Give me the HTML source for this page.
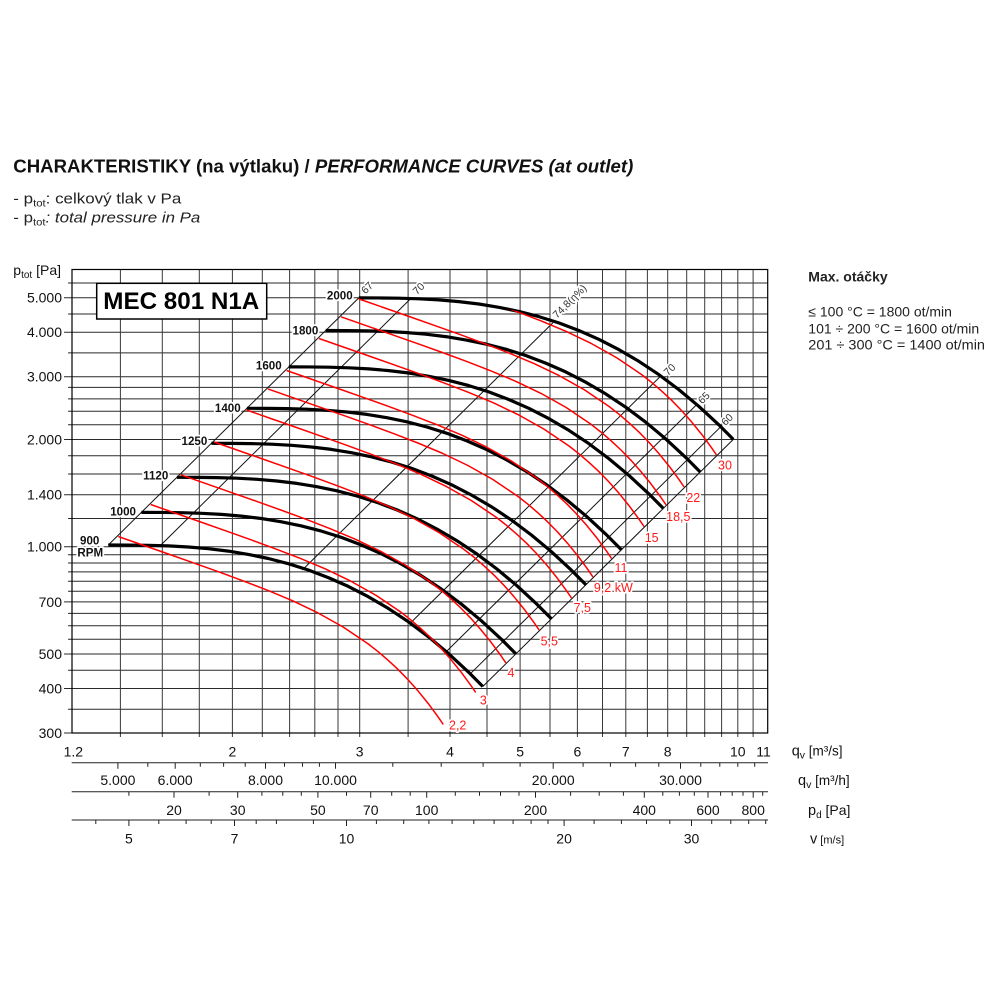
<!DOCTYPE html>
<html><head><meta charset="utf-8"><style>
html,body{margin:0;padding:0;background:#fff;}
svg{display:block;}
.h{paint-order:stroke;stroke:#fff;stroke-width:3.5px;stroke-linejoin:round;}
</style></head><body>
<svg width="1000" height="1000" viewBox="0 0 1000 1000" font-family="'Liberation Sans', Arial, sans-serif">
<defs>
<path id="bk" d="M0,0 L20,0.04 L40,0.29 L60,0.9 L80,2 L100,3.7 L120,6.1 L140,9.4 L160,13.5 L180,18.7 L200,25 L220,32.6 L240,41.4 L260,51.7 L280,63.4 L300,76.7 L320,91.7 L340,108.4 L360,126.9 L374.5,141.5"/>
<path id="rd" d="M0,0 L25,8.75 L50,17.5 L75,26.3 L100,35.2 L125,44.4 L150,54.1 L175,64.6 L200,76.6 L225,90.6 L250,107.5 L260,115.3 L270,123.9 L280,133.2 L290,143.5 L300,154.8 L310,167.1 L320,180.7 L325,188"/>
<clipPath id="cl" clipPathUnits="userSpaceOnUse"><polygon points="60,297.9 358.8,297.9 378.8,297.9 398.8,298.2 418.8,298.8 438.8,299.9 458.8,301.6 478.8,304 498.8,307.3 518.8,311.4 538.8,316.6 558.8,322.9 578.8,330.5 598.8,339.3 618.8,349.6 638.8,361.3 658.8,374.6 678.8,389.6 698.8,406.3 718.8,424.8 733.3,439.4 780,439.4 780,745 60,745"/></clipPath>
</defs>
<rect width="1000" height="1000" fill="#fff"/>

<!-- Title -->
<text x="13.3" y="172.7" font-size="18" font-weight="bold" fill="#111" textLength="620" lengthAdjust="spacingAndGlyphs">CHARAKTERISTIKY (na výtlaku) / <tspan font-style="italic">PERFORMANCE CURVES (at outlet)</tspan></text>
<text x="13.3" y="203.3" font-size="15" fill="#222" textLength="168" lengthAdjust="spacingAndGlyphs">- p<tspan font-size="10" dy="3">tot</tspan><tspan dy="-3">: celkový tlak v Pa</tspan></text>
<text x="13.3" y="222.5" font-size="15" fill="#222" textLength="187" lengthAdjust="spacingAndGlyphs">- p<tspan font-size="10" dy="3">tot</tspan><tspan dy="-3" font-style="italic">: total pressure in Pa</tspan></text>

<!-- Right legend -->
<text x="808.3" y="281.5" font-size="14" font-weight="bold" fill="#222">Max. otáčky</text>
<text x="808.3" y="316.7" font-size="14" fill="#222">≤ 100 °C = 1800 ot/min</text>
<text x="808.3" y="333.3" font-size="14" fill="#222">101 ÷ 200 °C = 1600 ot/min</text>
<text x="808.3" y="349.3" font-size="14" fill="#222" textLength="176.7" lengthAdjust="spacingAndGlyphs">201 ÷ 300 °C = 1400 ot/min</text>

<!-- Grid -->
<g stroke="#2a2a2a" stroke-width="1" fill="none">
<path d="M68 283H767.7 M64 297.7H767.7 M68 314H767.7 M64 332.2H767.7 M68 352.9H767.7 M64 376.7H767.7 M68 387.4H767.7 M68 398.9H767.7 M68 411.3H767.7 M68 424.7H767.7 M64 439.5H767.7 M68 455.8H767.7 M68 474H767.7 M64 494.7H767.7 M68 518.5H767.7 M64 546.7H767.7 M68 554.7H767.7 M68 563H767.7 M68 571.9H767.7 M68 581.3H767.7 M68 591.2H767.7 M64 601.9H767.7 M68 613.4H767.7 M68 625.8H767.7 M68 639.2H767.7 M64 654H767.7 M68 670.3H767.7 M64 688.5H767.7 M68 709.2H767.7 M64 733H767.7"/>
<path stroke="#3a3a3a" d="M120.4 269.5V737 M162.3 269.5V737 M199.3 269.5V737 M232.4 269.5V737 M262.3 269.5V737 M289.6 269.5V737 M314.8 269.5V737 M338 269.5V737 M359.7 269.5V737 M408.1 269.5V737 M450 269.5V737 M487 269.5V737 M520.1 269.5V737 M550 269.5V737 M577.4 269.5V737 M602.5 269.5V737 M625.8 269.5V737 M647.4 269.5V737 M667.7 269.5V737 M686.7 269.5V737 M704.7 269.5V737 M721.6 269.5V737 M737.8 269.5V737 M753.1 269.5V737"/>
<rect x="72" y="269.5" width="695.7" height="463.5" stroke="#000" stroke-width="1.2"/>
</g>

<!-- Efficiency diagonals -->
<path fill="none" stroke="#111" stroke-width="1" d="M108.3,545 L358.8,297.9 M160.3,545.6 L410.8,298.5 M302.3,570 L552.8,322.9 M410.3,623.1 L660.8,376 M446.3,651.6 L696.8,404.5 M470.3,673.8 L720.8,426.7 M482.8,686.5 L733.3,439.4"/>

<!-- Black RPM curves -->
<g fill="none" stroke="#000" stroke-width="3.2" stroke-linejoin="round">
<use href="#bk" transform="translate(108.3,545)"/>
<use href="#bk" transform="translate(141.4,512.4)"/>
<use href="#bk" transform="translate(176.9,477.3)"/>
<use href="#bk" transform="translate(211.4,443.3)"/>
<use href="#bk" transform="translate(246.9,408.3)"/>
<use href="#bk" transform="translate(288.8,366.9)"/>
<use href="#bk" transform="translate(325.7,330.5)"/>
<use href="#bk" transform="translate(358.8,297.9)"/>
</g>

<!-- Red power curves -->
<g clip-path="url(#cl)">
<g fill="none" stroke="#ff0000" stroke-width="1.5" stroke-linejoin="round">
<use href="#rd" transform="translate(118.3,536.5)"/>
<use href="#rd" transform="translate(150.7,504.5)"/>
<use href="#rd" transform="translate(180.8,474.8)"/>
<use href="#rd" transform="translate(214.1,442)"/>
<use href="#rd" transform="translate(246.5,410)"/>
<use href="#rd" transform="translate(267.9,388.9)"/>
<use href="#rd" transform="translate(286.6,370.5)"/>
<use href="#rd" transform="translate(319,338.5)"/>
<use href="#rd" transform="translate(341,316.8)"/>
<use href="#rd" transform="translate(359.1,299)"/>
<use href="#rd" transform="translate(391.5,267)"/>
</g>
</g>

<!-- Efficiency labels -->
<g font-size="10.5" fill="#333" text-anchor="middle" dominant-baseline="central">
<text class="h" transform="translate(367.5,288.3) rotate(-45)">67</text>
<text class="h" transform="translate(419,289) rotate(-45)">70</text>
<text class="h" transform="translate(570,301.7) rotate(-45)">74,8(η%)</text>
<text class="h" transform="translate(670,370) rotate(-45)">70</text>
<text class="h" transform="translate(704.2,398.3) rotate(-45)">65</text>
<text class="h" transform="translate(727.5,420) rotate(-45)">60</text>
</g>

<!-- RPM labels -->
<g font-size="11.6" font-weight="bold" fill="#111" text-anchor="end">
<text class="h" x="352.7" y="299.5">2000</text>
<text class="h" x="318.3" y="334.5">1800</text>
<text class="h" x="281.7" y="369.5">1600</text>
<text class="h" x="240.7" y="412">1400</text>
<text class="h" x="207.3" y="445.2">1250</text>
<text class="h" x="168.3" y="479.3">1120</text>
<text class="h" x="136" y="515.3">1000</text>
<text class="h" x="89.7" y="544.7" text-anchor="middle">900</text>
<text class="h" x="90.3" y="556.7" text-anchor="middle">RPM</text>
</g>

<!-- Power labels -->
<g font-size="12.5" fill="#ff1a1a" text-anchor="middle">
<text class="h" x="457.7" y="729.5">2,2</text>
<text class="h" x="483.3" y="704.5">3</text>
<text class="h" x="511" y="676.8">4</text>
<text class="h" x="549.3" y="645.5">5,5</text>
<text class="h" x="582.3" y="611.8">7,5</text>
<text class="h" x="613.3" y="591.8">9,2 kW</text>
<text class="h" x="621" y="571.8">11</text>
<text class="h" x="651.7" y="541.8">15</text>
<text class="h" x="678.3" y="521.2">18,5</text>
<text class="h" x="693.3" y="501.8">22</text>
<text class="h" x="725" y="469.5">30</text>
</g>

<!-- Model box -->
<rect x="96.7" y="283.3" width="170" height="35.7" fill="#fff" stroke="#000" stroke-width="1.5"/>
<text x="103.3" y="309" font-size="24" font-weight="bold" fill="#000" textLength="156" lengthAdjust="spacingAndGlyphs">MEC 801 N1A</text>

<!-- Y axis -->
<text x="13.3" y="275" font-size="14" fill="#111">p<tspan font-size="10" dy="3">tot</tspan><tspan dy="-3"> [Pa]</tspan></text>
<g font-size="14" fill="#111" text-anchor="end">
<text x="62" y="302.7">5.000</text>
<text x="62" y="337.2">4.000</text>
<text x="62" y="381.7">3.000</text>
<text x="62" y="444.5">2.000</text>
<text x="62" y="499.7">1.400</text>
<text x="62" y="551.7">1.000</text>
<text x="62" y="606.9">700</text>
<text x="62" y="659">500</text>
<text x="62" y="693.5">400</text>
<text x="62" y="738">300</text>
</g>

<!-- X axis q m3/s -->
<g font-size="14" fill="#111" text-anchor="middle">
<text x="73.3" y="756.5">1.2</text>
<text x="232.4" y="756.5">2</text>
<text x="359.7" y="756.5">3</text>
<text x="450" y="756.5">4</text>
<text x="520.1" y="756.5">5</text>
<text x="577.4" y="756.5">6</text>
<text x="625.8" y="756.5">7</text>
<text x="667.7" y="756.5">8</text>
<text x="737.8" y="756.5">10</text>
<text x="763.5" y="756.5">11</text>
</g>

<!-- Secondary axes -->
<g stroke="#222" stroke-width="1" fill="none">
<path d="M71.7 762.7H768 M71.7 791.7H768 M71.7 820H768"/>
<path d="M117.9 762.7v6 M147.8 762.7v4 M175.2 762.7v6 M200.3 762.7v4 M223.6 762.7v4 M245.2 762.7v4 M265.5 762.7v6 M284.5 762.7v4 M302.5 762.7v4 M319.4 762.7v4 M335.5 762.7v6 M392.8 762.7v4 M441.2 762.7v4 M483.1 762.7v4 M520.1 762.7v4 M553.2 762.7v6 M583.1 762.7v4 M610.4 762.7v4 M635.6 762.7v4 M658.8 762.7v4 M680.5 762.7v6 M700.8 762.7v4 M719.8 762.7v4 M737.8 762.7v4 M754.7 762.7v4"/>
<path d="M128.9 791.7v4 M174 791.7v6 M209.1 791.7v4 M237.7 791.7v6 M261.9 791.7v4 M282.8 791.7v4 M301.3 791.7v4 M317.9 791.7v6 M346.5 791.7v4 M370.7 791.7v6 M391.7 791.7v4 M410.2 791.7v4 M426.7 791.7v6 M455.3 791.7v4 M479.5 791.7v4 M500.5 791.7v4 M519 791.7v4 M535.5 791.7v6 M570.6 791.7v4 M599.2 791.7v4 M623.4 791.7v4 M644.3 791.7v6 M662.8 791.7v4 M679.4 791.7v4 M694.3 791.7v4 M708 791.7v6 M720.6 791.7v4 M732.2 791.7v4 M743 791.7v4 M753.2 791.7v6 M762.7 791.7v4"/>
<path d="M95.8 820v4 M128.9 820v6 M158.8 820v4 M186.1 820v4 M211.2 820v4 M234.5 820v6 M256.2 820v4 M276.4 820v4 M313.4 820v4 M346.5 820v6 M376.4 820v4 M403.7 820v4 M428.9 820v4 M452.1 820v4 M473.8 820v4 M494.1 820v4 M513.1 820v4 M531.1 820v4 M548 820v4 M564.1 820v6 M594.1 820v4 M621.4 820v4 M646.5 820v4 M669.8 820v4 M691.5 820v6 M711.7 820v4 M730.8 820v4 M748.7 820v4 M765.7 820v4"/>
</g>
<g font-size="14" fill="#111" text-anchor="middle">
<text x="117.9" y="785">5.000</text>
<text x="175.2" y="785">6.000</text>
<text x="265.5" y="785">8.000</text>
<text x="335.5" y="785">10.000</text>
<text x="553.2" y="785">20.000</text>
<text x="680.5" y="785">30.000</text>
<text x="174" y="815">20</text>
<text x="237.7" y="815">30</text>
<text x="317.9" y="815">50</text>
<text x="370.7" y="815">70</text>
<text x="426.7" y="815">100</text>
<text x="535.5" y="815">200</text>
<text x="644.3" y="815">400</text>
<text x="708" y="815">600</text>
<text x="753.2" y="815">800</text>
<text x="128.9" y="843.5">5</text>
<text x="234.5" y="843.5">7</text>
<text x="346.5" y="843.5">10</text>
<text x="564.1" y="843.5">20</text>
<text x="691.5" y="843.5">30</text>
</g>

<!-- Unit labels -->
<g fill="#111">
<text x="791.7" y="755.5" font-size="14.5">q<tspan font-size="10.5" dy="3">v</tspan><tspan dy="-3" font-size="13.5"> [m³/s]</tspan></text>
<text x="798" y="785" font-size="14.5">q<tspan font-size="10.5" dy="3">v</tspan><tspan dy="-3" font-size="13.5"> [m³/h]</tspan></text>
<text x="808" y="815" font-size="14.5">p<tspan font-size="10" dy="3">d</tspan><tspan dy="-3" font-size="14"> [Pa]</tspan></text>
<text x="810" y="843.5" font-size="14.5">v<tspan font-size="11"> [m/s]</tspan></text>
</g>
</svg>
</body></html>
